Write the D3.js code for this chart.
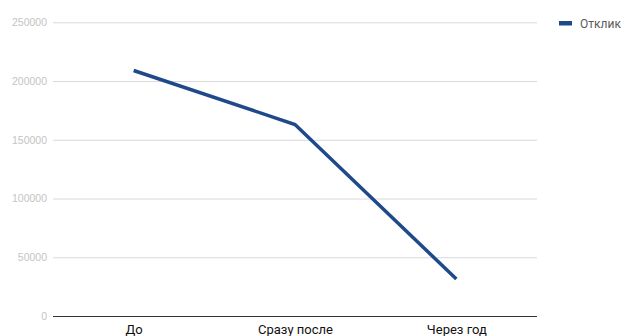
<!DOCTYPE html>
<html>
<head>
<meta charset="utf-8">
<script src="https://cdn.jsdelivr.net/npm/d3@7"></script>
<style>
  html, body { margin: 0; padding: 0; background: #fff; overflow: hidden; }
  svg { display: block; }
</style>
</head>
<body>
<svg id="chart" width="623" height="336"></svg>
<script>
// Response volume at three moments
const categories = ["До", "Сразу после", "Через год"];
const responses = [209000, 163000, 31500];
const yTicks = [0, 50000, 100000, 150000, 200000, 250000];
const seriesName = "Отклик";

const W = 623, H = 336;
const m = { left: 53, right: 86, top: 22.3, bottom: 20 };

const svg = d3.select("#chart");

const x = d3.scalePoint()
  .domain(categories)
  .range([m.left, W - m.right])
  .padding(0.5);

const y = d3.scaleLinear()
  .domain([0, 250000])
  .range([H - m.bottom, m.top]);

// horizontal grid lines with value labels
const yAxis = d3.axisLeft(y)
  .tickValues(yTicks)
  .tickSize(-(W - m.left - m.right))
  .tickPadding(6)
  .tickFormat(d3.format("d"));

const gy = svg.append("g")
  .attr("transform", `translate(${m.left},0)`)
  .call(yAxis);
gy.select(".domain").remove();
gy.selectAll(".tick line")
  .attr("stroke", d => d === 0 ? "#333" : "#d9d9d9")
  .attr("stroke-width", 1);
gy.selectAll(".tick text")
  .attr("fill", "#c4c4c4")
  .attr("font-family", "Arial, 'Liberation Sans', sans-serif")
  .attr("font-size", 10.5);

// category labels under the baseline
const xAxis = d3.axisBottom(x).tickSize(0).tickPadding(9);
const gx = svg.append("g")
  .attr("transform", `translate(0,${H - m.bottom})`)
  .call(xAxis);
gx.select(".domain").remove();
gx.selectAll(".tick text")
  .attr("fill", "#111")
  .attr("font-family", "Roboto, sans-serif")
  .attr("font-size", 13);

// data line
const line = d3.line()
  .x((d, i) => x(categories[i]))
  .y(d => y(d));

svg.append("path")
  .datum(responses)
  .attr("d", line)
  .attr("fill", "none")
  .attr("stroke", "#1f4a8a")
  .attr("stroke-width", 3.5)
  .attr("stroke-linejoin", "miter");

// legend
const lg = svg.append("g").attr("transform", "translate(559,23)");
lg.append("rect")
  .attr("x", 0).attr("y", -2)
  .attr("width", 13).attr("height", 4.5)
  .attr("fill", "#1f4a8a");
lg.append("text")
  .attr("x", 21).attr("y", 4.5)
  .attr("fill", "#5a5a5a")
  .attr("font-family", "Roboto, sans-serif")
  .attr("font-size", 12)
  .text(seriesName);
</script>
</body>
</html>
